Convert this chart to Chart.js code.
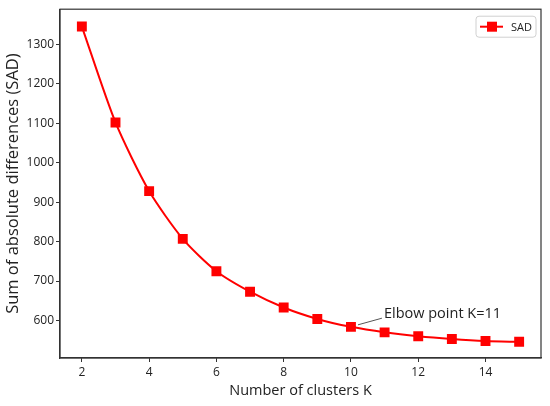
<!DOCTYPE html>
<html>
<head>
<meta charset="utf-8">
<script src="https://cdn.jsdelivr.net/npm/chart.js@4"></script>
<style>
  html, body { margin: 0; padding: 0; background: #ffffff; }
  #wrap { width: 550px; height: 406px; }
</style>
</head>
<body>
<div id="wrap"><canvas id="elbowChart"></canvas></div>
<script>
// Cluster counts and SAD values
const clusterK = [2, 3, 4, 5, 6, 7, 8, 9, 10, 11, 12, 13, 14, 15];
const sadValues = [1345, 1102, 928, 807, 725, 673, 633, 604, 584, 570, 560, 553, 548, 546];
const xTicks = [2, 4, 6, 8, 10, 12, 14];
const yTicks = [600, 700, 800, 900, 1000, 1100, 1200, 1300];

const FONT = "'Open Sans', 'Noto Sans', sans-serif";
const RED = "#ff0000";

// annotation: text anchor and the point it refers to
const elbowText = "Elbow point K=11";
const elbowTextAt = { x: 10.98, y: 616 };
const elbowPointAt = { x: 10, y: 584 };

// box around the plot + annotation + legend
const extras = {
  id: "extras",
  afterDraw(chart) {
    const { ctx, chartArea: a, scales } = chart;
    ctx.save();

    // frame
    ctx.strokeStyle = "#333";
    ctx.lineWidth = 1.2;
    ctx.strokeRect(a.left, a.top, a.right - a.left, a.bottom - a.top);

    // annotation
    const tx = scales.x.getPixelForValue(elbowTextAt.x);
    const ty = scales.y.getPixelForValue(elbowTextAt.y);
    const px = scales.x.getPixelForValue(elbowPointAt.x);
    const py = scales.y.getPixelForValue(elbowPointAt.y);
    ctx.strokeStyle = "#555";
    ctx.lineWidth = 1;
    ctx.beginPath();
    ctx.moveTo(px + 7, py - 2);
    ctx.lineTo(tx - 2, ty + 4);
    ctx.stroke();
    ctx.fillStyle = "#222";
    ctx.font = "14.5px " + FONT;
    ctx.textBaseline = "middle";
    ctx.textAlign = "left";
    ctx.fillText(elbowText, tx, ty);

    // legend
    const lx = a.right - 65, ly = a.top + 7, lw = 60, lh = 21;
    ctx.fillStyle = "rgba(255,255,255,0.9)";
    ctx.strokeStyle = "#d0d0d0";
    ctx.lineWidth = 1;
    ctx.beginPath();
    ctx.roundRect(lx, ly, lw, lh, 3);
    ctx.fill();
    ctx.stroke();
    const cy = ly + lh / 2;
    ctx.strokeStyle = RED;
    ctx.lineWidth = 2;
    ctx.beginPath();
    ctx.moveTo(lx + 4, cy);
    ctx.lineTo(lx + 27, cy);
    ctx.stroke();
    ctx.fillStyle = RED;
    ctx.fillRect(lx + 11, cy - 5, 10, 10);
    ctx.fillStyle = "#222";
    ctx.font = "11px " + FONT;
    ctx.fillText("SAD", lx + 35, cy + 1);

    ctx.restore();
  }
};

new Chart(document.getElementById("elbowChart"), {
  type: "line",
  data: {
    datasets: [{
      label: "SAD",
      data: clusterK.map((k, i) => ({ x: k, y: sadValues[i] })),
      borderColor: RED,
      backgroundColor: RED,
      borderWidth: 2,
      pointStyle: "rect",
      pointRadius: 7,
      pointHoverRadius: 7,
      pointBorderWidth: 0,
      tension: 0.25,
      fill: false
    }]
  },
  options: {
    responsive: true,
    maintainAspectRatio: false,
    animation: false,
    layout: { padding: { left: 0, top: 8, right: 9, bottom: 0 } },
    plugins: {
      legend: { display: false },
      tooltip: { enabled: false }
    },
    scales: {
      x: {
        type: "linear",
        min: 1.35,
        max: 15.65,
        afterBuildTicks: s => { s.ticks = xTicks.map(v => ({ value: v })); },
        afterFit: s => { s.height = 48; },
        grid: { drawOnChartArea: false, drawTicks: true, tickLength: 4, color: "#333" },
        border: { display: true, color: "#333", width: 1.2 },
        ticks: { color: "#222", font: { family: FONT, size: 12 }, padding: 3, callback: v => String(v) },
        title: {
          display: true,
          text: "Number of clusters K",
          color: "#222",
          font: { family: FONT, size: 14.5 },
          padding: { top: 0, bottom: 6 }
        }
      },
      y: {
        type: "linear",
        min: 505,
        max: 1389,
        afterBuildTicks: s => { s.ticks = yTicks.map(v => ({ value: v })); },
        afterFit: s => { s.width = 60; },
        grid: { drawOnChartArea: false, drawTicks: true, tickLength: 4, color: "#333" },
        border: { display: true, color: "#333", width: 1.2 },
        ticks: { color: "#222", font: { family: FONT, size: 12 }, padding: 2, callback: v => String(v) },
        title: {
          display: true,
          text: "Sum of absolute differences (SAD)",
          color: "#222",
          font: { family: FONT, size: 16.5 },
          padding: { top: 3, bottom: 0 }
        }
      }
    }
  },
  plugins: [extras]
});
</script>
</body>
</html>
